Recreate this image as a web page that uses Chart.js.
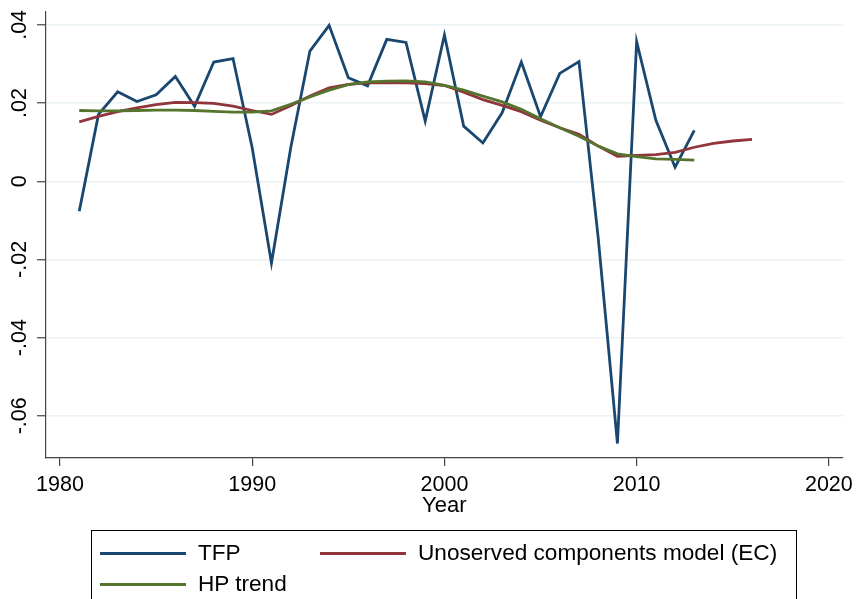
<!DOCTYPE html>
<html>
<head>
<meta charset="utf-8">
<script src="https://cdn.jsdelivr.net/npm/chart.js@4"></script>
<style>
  body { margin: 0; background: #fff; }
  #wrap { position: relative; width: 859px; height: 599px; overflow: hidden; }
  #legend {
    position: absolute; left: 91px; top: 530px; width: 706px; height: 90px;
    border: 1.5px solid #000; box-sizing: border-box;
    font-family: "Liberation Sans", Arial, sans-serif; font-size: 22.6px; color: #000;
  }
  .item { position: absolute; display: flex; align-items: center; height: 26px; }
  .swatch { width: 86px; height: 3px; margin-right: 12px; }
</style>
</head>
<body>
<div id="wrap">
  <canvas id="chart" width="859" height="599"></canvas>
  <div id="legend"></div>
</div>
<script>
// series values
const tfpYears = [1981, 1982, 1983, 1984, 1985, 1986, 1987, 1988, 1989, 1990,
  1991, 1992, 1993, 1994, 1995, 1996, 1997, 1998, 1999, 2000,
  2001, 2002, 2003, 2004, 2005, 2006, 2007, 2008, 2009, 2010,
  2011, 2012, 2013];
const tfp = [-0.0077, 0.0171, 0.0229, 0.0204, 0.0221, 0.0268, 0.0192, 0.0305, 0.0314, 0.0085,
  -0.0209, 0.0085, 0.0333, 0.0399, 0.0265, 0.0244, 0.0363, 0.0355, 0.0154, 0.0374,
  0.0141, 0.0098, 0.0175, 0.0305, 0.0165, 0.0276, 0.0306, -0.0145, -0.0671, 0.0357,
  0.0156, 0.0036, 0.0130];

const ucYears = [1981, 1982, 1983, 1984, 1985, 1986, 1987, 1988, 1989, 1990,
  1991, 1992, 1993, 1994, 1995, 1996, 1997, 1998, 1999, 2000,
  2001, 2002, 2003, 2004, 2005, 2006, 2007, 2008, 2009, 2010,
  2011, 2012, 2013, 2014, 2015, 2016];
const ucModel = [0.0152, 0.0166, 0.0178, 0.0188, 0.0196, 0.0202, 0.0201, 0.0199, 0.0192, 0.0181,
  0.0171, 0.0193, 0.0218, 0.0239, 0.0248, 0.0252, 0.0252, 0.0252, 0.0250, 0.0245,
  0.0228, 0.0209, 0.0194, 0.0178, 0.0156, 0.0137, 0.0120, 0.0090, 0.0064, 0.0066,
  0.0068, 0.0074, 0.0087, 0.0097, 0.0103, 0.0107];

const hpYears = tfpYears;
const hpTrend = [0.0181, 0.0180, 0.0180, 0.0181, 0.0182, 0.0182, 0.0181, 0.0179, 0.0177, 0.0177,
  0.0180, 0.0197, 0.0216, 0.0233, 0.0247, 0.0254, 0.0256, 0.0257, 0.0254, 0.0245,
  0.0233, 0.0218, 0.0203, 0.0184, 0.0160, 0.0137, 0.0115, 0.0090, 0.0070, 0.0063,
  0.0057, 0.0056, 0.0054];

const xTicks = [1980, 1990, 2000, 2010, 2020];
const yTicks = [-0.06, -0.04, -0.02, 0, 0.02, 0.04];
const yTickLabels = ['-.06', '-.04', '-.02', '0', '.02', '.04'];

const seriesLabels = ['TFP', 'Unoserved components model (EC)', 'HP trend'];
const colors = ['#1a476f', '#90353b', '#55752f'];

const toPoints = (xs, ys) => xs.map((x, i) => ({ x: x, y: ys[i] }));
const font = '"Liberation Sans", Arial, sans-serif';

// rotated y tick labels, placed through the y scale
const yLabelPlugin = {
  id: 'yLabels',
  afterDraw(chart) {
    const ctx = chart.ctx;
    const scale = chart.scales.y;
    ctx.save();
    ctx.font = '21.5px ' + font;
    ctx.fillStyle = '#000';
    ctx.textAlign = 'center';
    ctx.textBaseline = 'middle';
    yTicks.forEach((v, i) => {
      const py = scale.getPixelForValue(v);
      ctx.save();
      ctx.translate(20.5, py);
      ctx.rotate(-Math.PI / 2);
      ctx.fillText(yTickLabels[i], 0, 0);
      ctx.restore();
    });
    ctx.restore();
  }
};

let ctx = document.getElementById('chart').getContext('2d');

let chart = new Chart(ctx, {
  type: 'line',
  data: {
    datasets: [
      { label: seriesLabels[0], data: toPoints(tfpYears, tfp), borderColor: colors[0], order: 3 },
      { label: seriesLabels[1], data: toPoints(ucYears, ucModel), borderColor: colors[1], order: 2 },
      { label: seriesLabels[2], data: toPoints(hpYears, hpTrend), borderColor: colors[2], order: 1 }
    ]
  },
  options: {
    responsive: false,
    animation: false,
    elements: {
      line: { borderWidth: 2.8, tension: 0, fill: false },
      point: { radius: 0 }
    },
    layout: { padding: { left: 0, right: 13, top: 12, bottom: 80 } },
    plugins: { legend: { display: false }, tooltip: { enabled: false } },
    scales: {
      x: {
        type: 'linear',
        min: 1979.27,
        max: 2020.72,
        afterBuildTicks: s => { s.ticks = xTicks.map(v => ({ value: v })); },
        afterFit: s => { s.height = 61; },
        grid: { drawOnChartArea: false, drawTicks: true, tickLength: 8, color: '#444', lineWidth: 1.2 },
        border: { display: true, color: '#444', width: 1.2 },
        ticks: {
          padding: 6,
          color: '#000',
          font: { family: font, size: 21.5 },
          maxRotation: 0,
          callback: v => String(v)
        },
        title: {
          display: true,
          text: 'Year',
          color: '#000',
          font: { family: font, size: 22 },
          padding: { top: 0, bottom: 0 }
        }
      },
      y: {
        type: 'linear',
        min: -0.0708,
        max: 0.0433,
        afterBuildTicks: s => { s.ticks = yTicks.map(v => ({ value: v })); },
        afterFit: s => { s.width = 46; },
        grid: {
          color: 'rgb(234,242,243)',
          lineWidth: 1.5,
          drawTicks: true,
          tickLength: 9,
          tickColor: '#444',
          tickWidth: 1.2
        },
        border: { display: true, color: '#444', width: 1.2 },
        ticks: { display: false }
      }
    }
  },
  plugins: [yLabelPlugin]
});

// html legend built from the datasets
const legend = document.getElementById('legend');
const spots = [[8, 9], [228, 9], [8, 40]];
chart.data.datasets.forEach((ds, i) => {
  const item = document.createElement('div');
  item.className = 'item';
  item.style.left = spots[i][0] + 'px';
  item.style.top = spots[i][1] + 'px';
  const sw = document.createElement('span');
  sw.className = 'swatch';
  sw.style.background = ds.borderColor;
  const tx = document.createElement('span');
  tx.textContent = ds.label;
  item.appendChild(sw);
  item.appendChild(tx);
  legend.appendChild(item);
});
</script>
</body>
</html>
